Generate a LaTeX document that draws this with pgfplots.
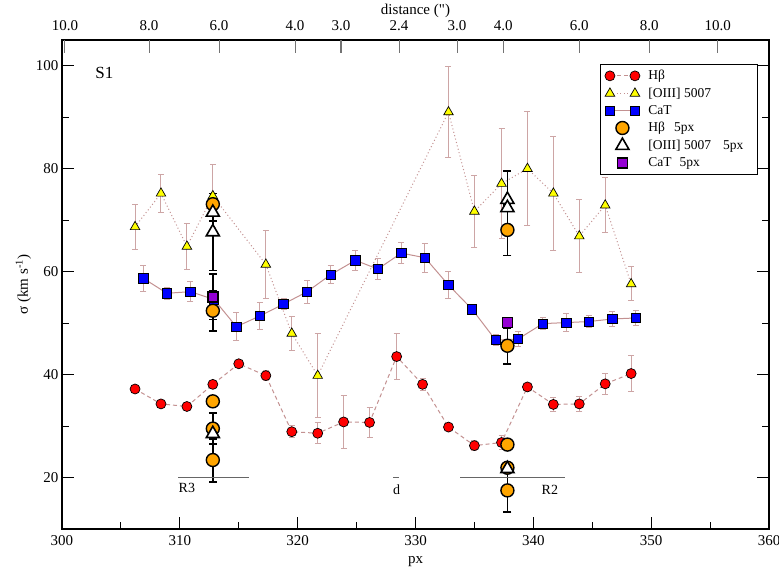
\documentclass[border=0pt]{standalone}
\usepackage{pgfplots}
\usepackage{pgfplotstable}
\pgfplotsset{compat=1.18}
\usepackage{fontspec}
\setmainfont{Liberation Serif}
\newfontfamily\rawserif{Liberation Serif}
\definecolor{lc}{RGB}{195,145,145}
\definecolor{ec}{RGB}{205,165,165}
\definecolor{myorange}{RGB}{255,165,0}
\definecolor{mypurple}{RGB}{148,0,211}
\definecolor{myyellow}{RGB}{255,255,0}

\pgfplotstableread{
x y e
306.2 37.2 0.5
308.4 34.3 0.5
310.6 33.8 0.5
312.8 38.1 0.8
315.0 42.1 0.5
317.3 39.8 1.0
319.5 28.9 1.2
321.7 28.6 2.0
323.9 30.8 5.2
326.1 30.7 3.0
328.4 43.5 4.5
330.6 38.1 1.2
332.8 29.8 0.5
335.0 26.2 1.0
337.3 26.8 1.3
339.5 37.6 0.5
341.7 34.2 1.4
343.9 34.3 1.5
346.1 38.2 2.0
348.3 40.2 3.5
}\hb

\pgfplotstableread{
x y e
306.2 68.7 4.4
308.4 75.2 3.7
310.6 64.9 4.5
312.8 74.7 6.1
317.3 61.4 6.6
319.5 48.0 3.3
321.7 39.8 8.1
332.8 91.0 8.9
335.0 71.7 7.0
337.3 77.1 10.7
339.5 80.0 11.1
341.7 75.2 11.1
343.9 66.9 7.1
346.1 72.9 5.3
348.3 57.6 3.3
}\oiii

\pgfplotstableread{
x y e
306.9 58.7 2.5
308.9 55.8 1.2
310.9 56.1 1.9
312.9 54.6 1.5
314.8 49.3 2.7
316.8 51.4 2.6
318.8 53.7 1.1
320.8 56.1 2.2
322.8 59.4 1.7
324.9 62.2 2.0
326.8 60.5 2.0
328.8 63.6 2.0
330.8 62.7 2.8
332.8 57.4 2.7
334.8 52.7 0.5
336.8 46.7 1.0
338.7 46.9 1.5
340.8 49.9 1.2
342.8 50.1 1.7
344.7 50.3 1.2
346.7 50.8 1.4
348.7 51.0 1.5
}\cat

\pgfplotstableread{
x y e
312.8 73.1 0.3
312.8 52.4 3.9
312.8 34.8 0.3
312.8 29.5 3.0
312.8 23.4 4.3
337.8 68.1 5.0
337.8 45.6 3.5
337.8 26.4 0.6
337.8 21.9 0.3
337.8 17.5 4.2
}\hbfive

\pgfplotstableread{
x y e
312.8 71.5 1.7
312.8 67.7 7.5
312.8 28.5 1.0
337.8 74.0 5.6
337.8 72.4 0.5
337.8 21.7 0.5
}\oiiifive

\pgfplotstableread{
x y e
312.8 55.1 4.4
337.8 50.1 0.5
}\catfive

\begin{document}
\begin{tikzpicture}
\pgfplotsset{
  common/.style={scale only axis, width=707pt, height=489pt,
    xmin=300, xmax=360, ymin=10, ymax=105,
    /pgf/number format/assume math mode=true,
    tick label style={font=\fontsize{15}{18}\selectfont},
    label style={font=\fontsize{15}{18}\selectfont},
    tick align=inside},
  rosebars/.style={error bars/.cd, y dir=both, y explicit,
    error bar style={ec, line width=1pt, solid},
    error mark options={rotate=90, ec, mark size=3pt, line width=1pt, solid}},
  blackbars/.style={error bars/.cd, y dir=both, y explicit,
    error bar style={black, line width=1.6pt, solid},
    error mark options={rotate=90, black, mark size=4pt, line width=1.6pt, solid}},
  twomarks/.style={legend image code/.code={\path (-6pt,0pt) (36pt,0pt);\draw[##1] plot coordinates {(0pt,0pt) (25pt,0pt)};}},
  onemark/.style={legend image code/.code={\path (-6pt,0pt) (36pt,0pt);\draw[##1] plot coordinates {(12.5pt,0pt)};}},
}
\begin{axis}[common,
  axis line style={line width=1.3pt},
  xtick={300,310,...,360}, minor x tick num=1,
  ytick={20,40,...,100}, minor y tick num=1,
  xtick pos=left,
  major tick length=12pt, minor tick length=7pt,
  every tick/.style={black, line width=1.1pt},
  xticklabel style={yshift=-3pt},
  xlabel={px},
  ylabel={σ (km s\textsuperscript{-1})},
  xlabel style={at={(axis description cs:0.5,-0.066)}, anchor=center},
  ylabel style={yshift=-2pt},
  legend style={at={(0.984,0.951)}, anchor=north east, draw=black, line width=0.8pt,
    font=\fontsize{13.5}{15}\selectfont, row sep=2.6pt, inner xsep=3pt, inner ysep=4pt,
    cells={anchor=west}},
  legend cell align=left,
]
\addplot[lc, line width=1pt, dash pattern=on 4pt off 3pt, mark=*, mark size=5pt,
  mark options={solid, fill=red, draw=black, line width=0.7pt}, twomarks, rosebars]
  table[x=x, y=y, y error=e] {\hb};
\addlegendentry{Hβ}
\addplot[lc, line width=1pt, dash pattern=on 1pt off 2.5pt, mark=triangle*, mark size=5.5pt,
  mark options={solid, fill=myyellow, draw=black, line width=0.7pt}, twomarks, rosebars]
  table[x=x, y=y, y error=e] {\oiii};
\addlegendentry{[OIII] 5007}
\addplot[lc, line width=1pt, solid, mark=square*, mark size=4.7pt,
  mark options={solid, fill=blue, draw=black, line width=0.7pt}, twomarks, rosebars]
  table[x=x, y=y, y error=e] {\cat};
\addlegendentry{CaT}
\addplot[only marks, mark=*, mark size=6.5pt,
  mark options={solid, fill=myorange, draw=black, line width=1.4pt}, onemark, blackbars]
  table[x=x, y=y, y error=e] {\hbfive};
\addlegendentry{Hβ\hspace{9pt}5px}
\addplot[only marks, mark=triangle*, mark size=7.5pt,
  mark options={solid, fill=white, draw=black, line width=1.6pt}, onemark, blackbars]
  table[x=x, y=y, y error=e] {\oiiifive};
\addlegendentry{[OIII] 5007\hspace{12pt}5px\rule{9pt}{0pt}}
\addplot[only marks, mark=square*, mark size=5pt,
  mark options={solid, fill=mypurple, draw=black, line width=1.6pt}, onemark, blackbars]
  table[x=x, y=y, y error=e] {\catfive};
\addlegendentry{CaT\hspace{8pt}5px}

\addplot[black!60, line width=1pt, forget plot] coordinates {(309.85,20) (315.9,20)};
\addplot[black!60, line width=1pt, forget plot] coordinates {(328.1,20) (328.6,20)};
\addplot[black!60, line width=1pt, forget plot] coordinates {(333.8,20) (342.7,20)};
\node[font=\fontsize{14}{16}\selectfont] at (axis cs:310.6,18.0) {R3};
\node[font=\fontsize{14}{16}\selectfont] at (axis cs:328.4,17.6) {d};
\node[font=\fontsize{14}{16}\selectfont] at (axis cs:341.4,17.6) {R2};
\node[font=\fontsize{17}{20}\selectfont] at (axis cs:303.6,98.6) {S1};
\end{axis}

\begin{axis}[common,
  axis line style={draw=none},
  ytick=\empty,
  xtick pos=right, xticklabel pos=right,
  xtick={300.25,307.39,313.33,319.78,323.68,328.61,333.53,337.44,343.89,349.83,355.64},
  xticklabels={10.0,8.0,6.0,4.0,3.0,2.4,3.0,4.0,6.0,8.0,10.0},
  xticklabel style={yshift=6pt},
  major tick length=13pt,
  every tick/.style={black!55, line width=1.1pt},
  xlabel={distance ({\rawserif "})},
  xlabel style={at={(axis description cs:0.5,1.06)}, anchor=center},
]
\addplot[draw=none, forget plot] coordinates {(300,10)};
\end{axis}
\pgfresetboundingbox
\path (-62pt,-38pt) rectangle (717pt,529pt);
\end{tikzpicture}
\end{document}
